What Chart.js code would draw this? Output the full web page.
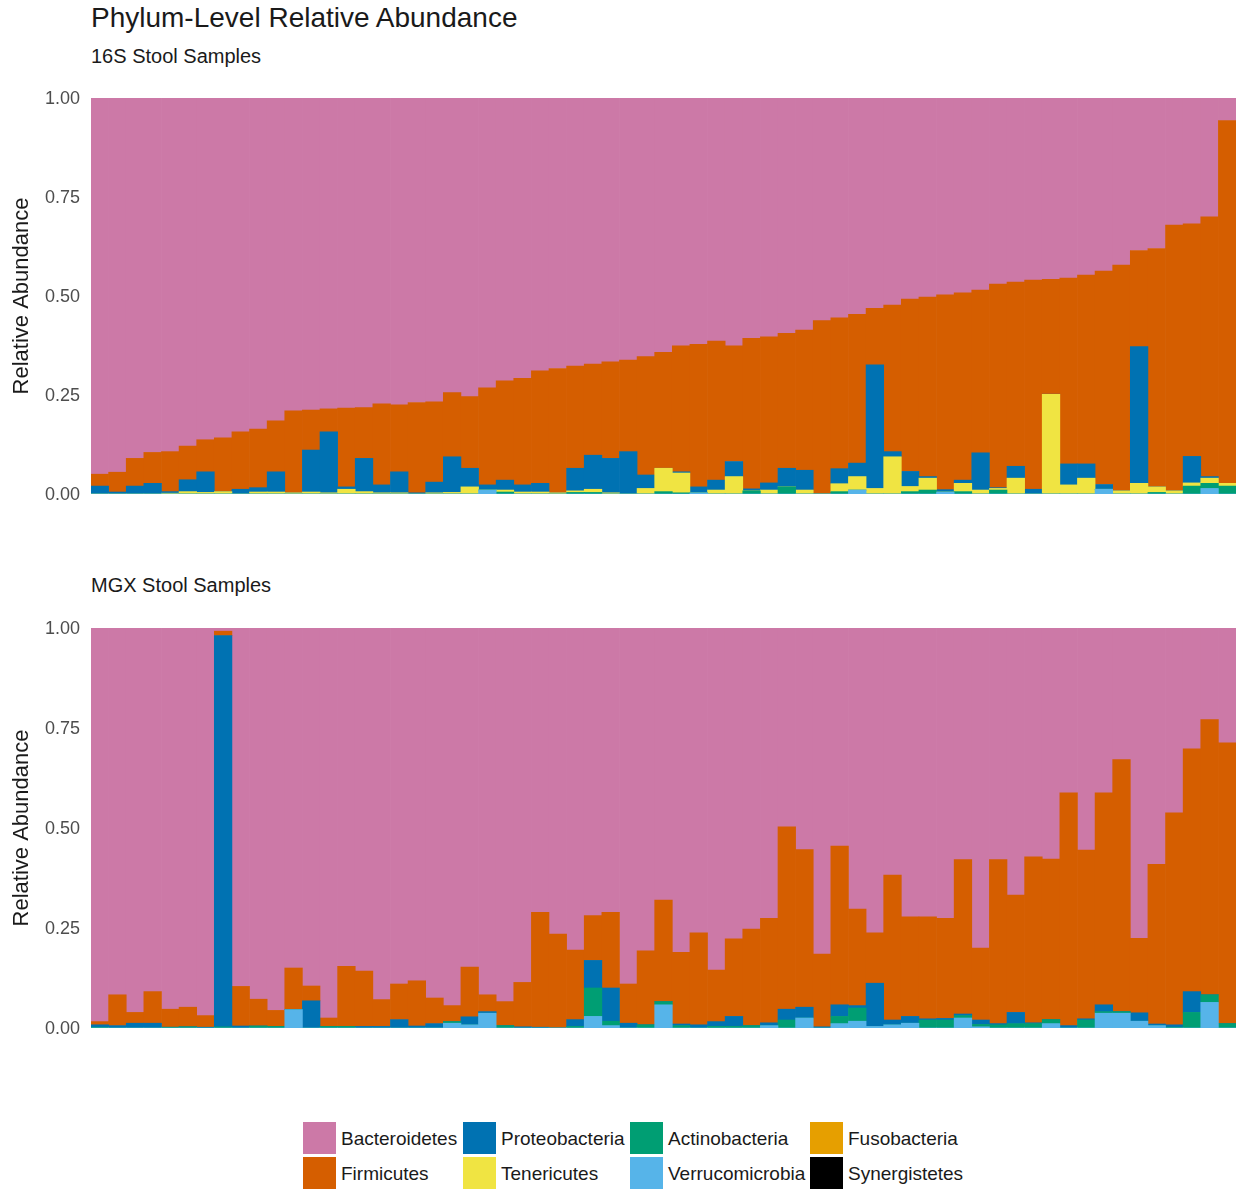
<!DOCTYPE html>
<html>
<head>
<meta charset="utf-8">
<script src="https://cdn.jsdelivr.net/npm/chart.js@4.4.1/dist/chart.umd.min.js"></script>
<style>
  html, body { margin: 0; padding: 0; background: #ffffff; }
  #wrap { position: relative; width: 1236px; height: 1189px; overflow: hidden; font-family: "Liberation Sans", Arial, sans-serif; color: #1a1a1a; }
  .txt { position: absolute; white-space: nowrap; }
  #title { left: 91px; top: 4px; font-size: 28px; line-height: 28px; }
  .sub { left: 91px; font-size: 20px; line-height: 20px; }
  #sub1 { top: 46px; }
  #sub2 { top: 575px; }
  canvas { position: absolute; left: 0; }
  #c1 { top: 80px; }
  #c2 { top: 610px; }
  .key { position: absolute; width: 33px; height: 32px; }
  .lab { position: absolute; font-size: 19px; line-height: 19px; white-space: nowrap; color: #1a1a1a; }
</style>
</head>
<body>
<div id="wrap">
  <div id="title" class="txt">Phylum-Level Relative Abundance</div>
  <div id="sub1" class="txt sub">16S Stool Samples</div>
  <div id="sub2" class="txt sub">MGX Stool Samples</div>
  <canvas id="c1" width="1236" height="430"></canvas>
  <canvas id="c2" width="1236" height="430"></canvas>
  <div id="legend"></div>
</div>
<script>
// ---------- Phyla (legend order) and colours ----------
const phyla = ["Bacteroidetes", "Firmicutes", "Proteobacteria", "Tenericutes",
               "Actinobacteria", "Verrucomicrobia", "Fusobacteria", "Synergistetes"];
const phylumColors = ["#CC79A7", "#D55E00", "#0072B2", "#F0E442",
                      "#009E73", "#56B4E9", "#E69F00", "#000000"];

// ---------- 16S stool samples (65 samples) ----------
const bact16S = [
  0.950,0.945,0.910,0.895,0.893,0.879,0.863,0.858,0.843,0.836,
  0.815,0.790,0.788,0.785,0.783,0.782,0.772,0.775,0.769,0.767,
  0.744,0.754,0.732,0.714,0.708,0.689,0.683,0.677,0.672,0.666,
  0.662,0.653,0.642,0.626,0.622,0.614,0.626,0.607,0.603,0.594,
  0.586,0.562,0.555,0.546,0.531,0.523,0.508,0.503,0.497,0.492,
  0.485,0.470,0.465,0.460,0.458,0.455,0.447,0.437,0.422,0.385,
  0.380,0.321,0.318,0.300,0.057];
const firm16S = [
  0.030,0.050,0.070,0.078,0.101,0.085,0.081,0.136,0.145,0.148,
  0.129,0.207,0.101,0.058,0.199,0.128,0.205,0.169,0.228,0.203,
  0.162,0.181,0.245,0.251,0.269,0.284,0.314,0.258,0.230,0.244,
  0.231,0.299,0.293,0.318,0.360,0.351,0.292,0.380,0.369,0.341,
  0.354,0.438,0.381,0.376,0.143,0.370,0.435,0.453,0.492,0.473,
  0.411,0.514,0.465,0.528,0.290,0.469,0.477,0.539,0.570,0.243,
  0.602,0.671,0.587,0.656,0.916];
const proteo16S = [
  0.020,0.005,0.020,0.027,0.004,0.030,0.052,0.000,0.012,0.011,
  0.051,0.000,0.106,0.154,0.006,0.084,0.020,0.053,0.003,0.027,
  0.090,0.047,0.013,0.025,0.018,0.022,0.000,0.057,0.086,0.087,
  0.107,0.034,0.000,0.003,0.015,0.025,0.038,0.005,0.018,0.047,
  0.050,0.000,0.038,0.034,0.312,0.013,0.038,0.004,0.006,0.008,
  0.094,0.002,0.030,0.012,0.000,0.053,0.036,0.012,0.000,0.345,
  0.000,0.000,0.067,0.004,0.000];
const teneri16S = [
  0.000,0.000,0.000,0.000,0.002,0.006,0.004,0.006,0.000,0.005,
  0.005,0.003,0.005,0.003,0.012,0.006,0.003,0.003,0.000,0.003,
  0.004,0.018,0.000,0.005,0.005,0.005,0.003,0.004,0.008,0.003,
  0.000,0.014,0.059,0.050,0.000,0.010,0.044,0.000,0.010,0.000,
  0.010,0.000,0.020,0.034,0.014,0.094,0.013,0.030,0.000,0.021,
  0.010,0.004,0.040,0.000,0.252,0.023,0.040,0.000,0.008,0.027,
  0.014,0.008,0.008,0.013,0.007];
const actino16S = [
  0,0,0,0,0,0,0,0,0,0,
  0,0,0,0,0,0,0,0,0,0,
  0,0,0,0.005,0,0,0,0.004,0.004,0,
  0,0,0.006,0.003,0,0,0,0.008,0,0.018,
  0,0,0.006,0,0,0,0.006,0.010,0,0.006,
  0,0.010,0,0,0,0,0,0,0,0,
  0.004,0,0.020,0.013,0.020];
const verruco16S = [
  0,0,0,0,0,0,0,0,0,0,
  0,0,0,0,0,0,0,0,0,0,
  0,0,0.010,0,0,0,0,0,0,0,
  0,0,0,0,0.003,0,0,0,0,0,
  0,0,0,0.010,0,0,0,0,0.005,0,
  0,0,0,0,0,0,0,0.012,0,0,
  0,0,0,0.014,0];
const fuso16S = [];
const synerg16S = [];

// ---------- MGX stool samples (65 samples) ----------
const bactMGX = [
  0.984,0.917,0.961,0.909,0.953,0.948,0.969,0.008,0.896,0.928,
  0.956,0.850,0.895,0.975,0.846,0.858,0.929,0.890,0.882,0.925,
  0.944,0.848,0.917,0.934,0.886,0.711,0.765,0.805,0.719,0.711,
  0.890,0.807,0.680,0.811,0.762,0.855,0.777,0.753,0.726,0.497,
  0.554,0.815,0.545,0.703,0.762,0.618,0.722,0.722,0.726,0.579,
  0.800,0.579,0.668,0.572,0.578,0.412,0.555,0.412,0.329,0.776,
  0.591,0.462,0.302,0.229,0.287];
const firmMGX = [
  0.008,0.077,0.027,0.079,0.045,0.049,0.029,0.011,0.099,0.067,
  0.040,0.104,0.037,0.021,0.150,0.138,0.067,0.089,0.113,0.064,
  0.040,0.124,0.042,0.060,0.111,0.287,0.235,0.174,0.112,0.189,
  0.098,0.185,0.254,0.179,0.230,0.129,0.194,0.241,0.261,0.456,
  0.394,0.182,0.397,0.241,0.126,0.362,0.249,0.255,0.250,0.386,
  0.180,0.410,0.293,0.415,0.401,0.582,0.422,0.530,0.630,0.186,
  0.399,0.530,0.607,0.688,0.702];
const proteoMGX = [
  0.006,0.006,0.012,0.012,0.000,0.000,0.002,0.978,0.005,0.000,
  0.000,0.000,0.068,0.000,0.000,0.004,0.004,0.021,0.005,0.011,
  0.000,0.020,0.004,0.000,0.003,0.002,0.000,0.017,0.069,0.083,
  0.012,0.000,0.000,0.004,0.008,0.012,0.025,0.000,0.007,0.027,
  0.027,0.003,0.029,0.006,0.108,0.012,0.017,0.003,0.004,0.004,
  0.011,0.003,0.028,0.002,0.000,0.006,0.003,0.017,0.000,0.021,
  0.004,0.006,0.052,0.000,0.000];
const teneriMGX = [];
const actinoMGX = [
  0.002,0,0,0,0.002,0.003,0,0.003,0,0.005,
  0.004,0,0,0.004,0.004,0,0,0,0,0,
  0.004,0,0,0.006,0,0,0,0.004,0.071,0.011,
  0,0.008,0.008,0.006,0,0.004,0.004,0.006,0,0.020,
  0,0,0.018,0.033,0,0,0,0.020,0.020,0.006,
  0.006,0.008,0.011,0.011,0.010,0,0.020,0.004,0.004,0,
  0,0.002,0.039,0.019,0.011];
const verrucoMGX = [
  0,0,0,0,0,0,0,0,0,0,
  0,0.046,0,0,0,0,0,0,0,0,
  0.012,0.008,0.037,0,0,0,0,0,0.029,0.006,
  0,0,0.058,0,0,0,0,0,0.006,0,
  0.025,0,0.011,0.017,0.004,0.008,0.012,0,0,0.025,
  0.003,0,0,0,0.011,0,0,0.037,0.037,0.017,
  0.006,0,0,0.064,0];
const fusoMGX = [];
const synergMGX = [];

const yTicks = [0, 0.25, 0.5, 0.75, 1];
const yAxisTitle = "Relative Abundance";

// ---------- chart building ----------
const FONT = '"Liberation Sans", Arial, sans-serif';

function buildDatasets(series) {
  // series given in legend order; stack bottom-up is reverse legend order
  const ds = [];
  for (let i = phyla.length - 1; i >= 0; i--) {
    ds.push({
      label: phyla[i],
      data: series[i],
      backgroundColor: phylumColors[i],
      borderWidth: 0,
      barPercentage: 1.0,
      categoryPercentage: 1.0
    });
  }
  return ds;
}

function makePanel(canvasId, series, padTop, padBottom) {
  const labels = series[0].map((_, i) => "Sample " + (i + 1));
  return new Chart(document.getElementById(canvasId), {
    type: "bar",
    data: { labels: labels, datasets: buildDatasets(series) },
    options: {
      responsive: false,
      animation: false,
      devicePixelRatio: 1,
      layout: { autoPadding: false, padding: { top: padTop, bottom: padBottom, left: 0, right: 0 } },
      plugins: { legend: { display: false }, tooltip: { enabled: false } },
      scales: {
        x: { stacked: true, display: false, grid: { display: false } },
        y: {
          stacked: true, min: 0, max: 1,
          border: { display: false },
          grid: { display: false, drawTicks: false },
          afterBuildTicks: (s) => { s.ticks = yTicks.map(v => ({ value: v })); },
          afterFit: (s) => { s.width = 91; },
          ticks: {
            padding: 11, color: "#4d4d4d", labelOffset: 1.5,
            font: { family: FONT, size: 18, lineHeight: 0.05 },
            callback: (v) => Number(v).toFixed(2)
          },
          title: {
            display: true, text: yAxisTitle, color: "#1a1a1a",
            font: { family: FONT, size: 22 },
            padding: { top: 9, bottom: 0 }
          }
        }
      }
    }
  });
}

makePanel("c1", [bact16S, firm16S, proteo16S, teneri16S, actino16S, verruco16S, fuso16S, synerg16S], 18, 16);
makePanel("c2", [bactMGX, firmMGX, proteoMGX, teneriMGX, actinoMGX, verrucoMGX, fusoMGX, synergMGX], 18, 12);

// ---------- legend (2 rows, filled by column) ----------
const legendColX = [303, 463, 630, 810];
const legendRowY = [1122, 1157];
const legend = document.getElementById("legend");
phyla.forEach((name, i) => {
  const col = Math.floor(i / 2), row = i % 2;
  const key = document.createElement("div");
  key.className = "key";
  key.style.left = legendColX[col] + "px";
  key.style.top = legendRowY[row] + "px";
  key.style.background = phylumColors[i];
  legend.appendChild(key);
  const lab = document.createElement("div");
  lab.className = "lab";
  lab.textContent = name;
  lab.style.left = (legendColX[col] + 38) + "px";
  lab.style.top = (legendRowY[row] + 7) + "px";
  legend.appendChild(lab);
});
</script>
</body>
</html>
